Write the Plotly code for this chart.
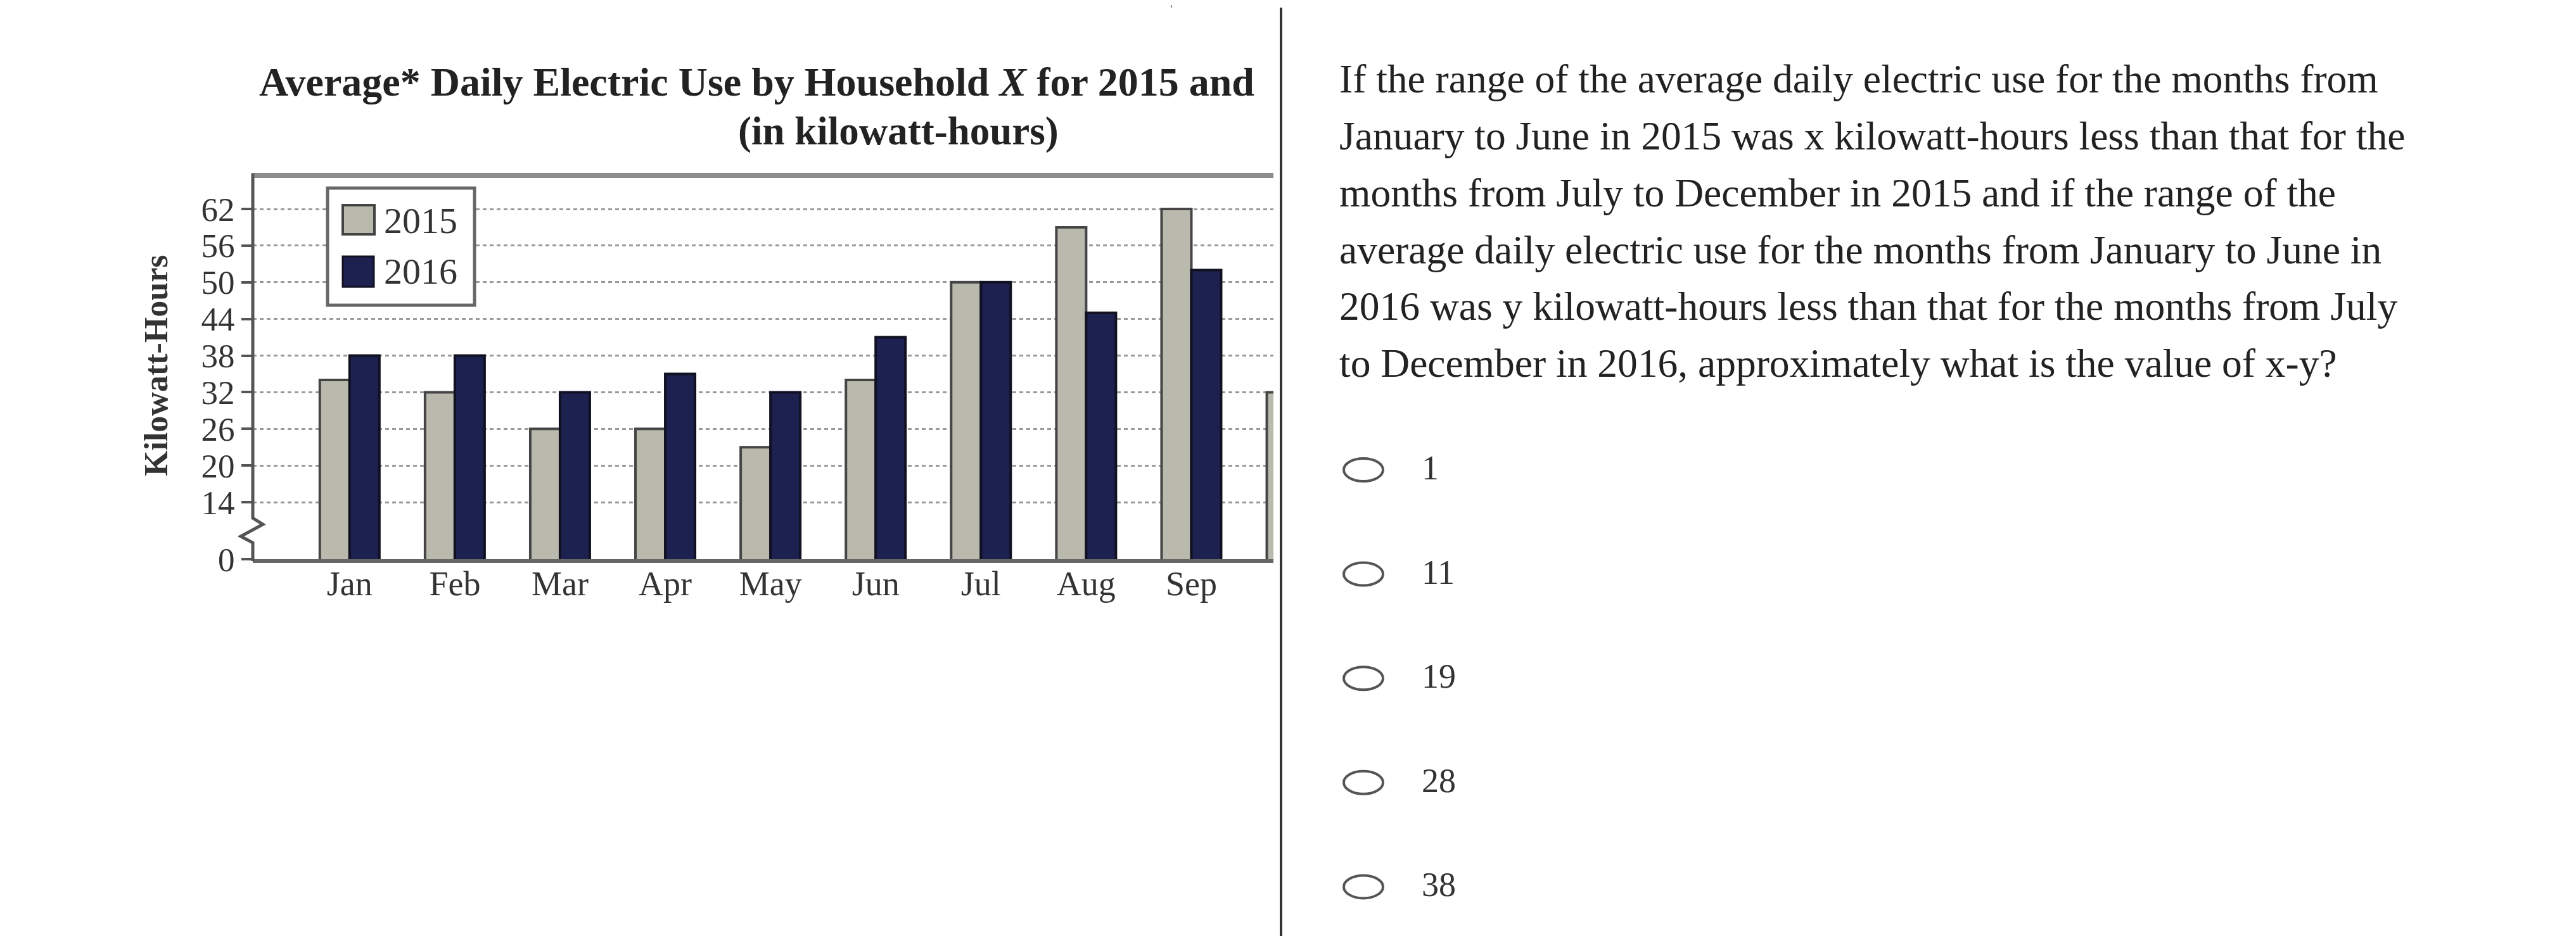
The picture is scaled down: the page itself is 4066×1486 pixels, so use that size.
import plotly.graph_objects as go

# ---------------- data ----------------
MONTHS = ["Jan", "Feb", "Mar", "Apr", "May", "Jun", "Jul", "Aug", "Sep", "Oct"]
USE_2015 = [34, 32, 26, 26, 23, 34, 50, 59, 62, 32]
USE_2016 = [38, 38, 32, 35, 32, 41, 50, 45, 52, None]
Y_TICKS = [0, 14, 20, 26, 32, 38, 44, 50, 56, 62]
SERIES_NAMES = ["2015", "2016"]

TITLE_1 = "Average* Daily Electric Use by Household <i>X</i> for 2015 and"
TITLE_2 = "(in kilowatt-hours)"
Y_TITLE = "Kilowatt-Hours"

QUESTION_LINES = [
    "If the range of the average daily electric use for the months from",
    "January to June in 2015 was x kilowatt-hours less than that for the",
    "months from July to December in 2015 and if the range of the",
    "average daily electric use for the months from January to June in",
    "2016 was y kilowatt-hours less than that for the months from July",
    "to December in 2016, approximately what is the value of x-y?",
]
CHOICES = ["1", "11", "19", "28", "38"]

# ---------------- geometry helpers ----------------
# the page body has an 8px margin, so the figure is offset by 8px
OFF = 8
FW, FH = 4066 - 2 * OFF, 1486 - 2 * OFF


def px(x):
    return (x - OFF) / FW


def py(y):
    return 1 - (y - OFF) / FH


SERIF = "Liberation Serif, Times New Roman, serif"
C2015 = "#b9b9ad"
C2016 = "#1d2150"

BREAK_POS = 4.67  # where the "0" of the broken axis sits
tickvals = [BREAK_POS if t == 0 else t for t in Y_TICKS]
ticktext = [str(t) for t in Y_TICKS]

fig = go.Figure()
fig.add_trace(go.Bar(x=MONTHS, y=USE_2015, name=SERIES_NAMES[0],
                     marker=dict(color=C2015, line=dict(color="#454545", width=4)),
                     showlegend=False))
fig.add_trace(go.Bar(x=MONTHS, y=USE_2016, name=SERIES_NAMES[1],
                     marker=dict(color=C2016, line=dict(color="#111122", width=4)),
                     showlegend=False))

fig.update_layout(
    width=FW, height=FH,
    margin=dict(l=0, r=0, t=0, b=0, pad=0),
    paper_bgcolor="white", plot_bgcolor="white",
    barmode="group", bargap=0.434, bargroupgap=0,
    xaxis=dict(domain=[px(399), px(2010)], range=[-0.92, 8.78],
               showline=True, linecolor="#666666", linewidth=6,
               ticks="", showgrid=False, automargin=False,
               ticklabelstandoff=-14,
               tickfont=dict(family=SERIF, size=54, color="#333333")),
    yaxis=dict(domain=[py(883), py(277)], range=[BREAK_POS, 67.5],
               tickvals=tickvals, ticktext=ticktext,
               showline=False, ticks="outside", ticklen=17, tickwidth=4,
               tickcolor="#555555", automargin=False,
               showgrid=True, gridcolor="#999999", gridwidth=3, griddash="6px,5px",
               zeroline=False,
               tickfont=dict(family=SERIF, size=53, color="#333333")),
)

shapes = []
# top frame line
shapes.append(dict(type="line", xref="paper", yref="paper",
                   x0=px(397), x1=px(2010), y0=py(277), y1=py(277),
                   line=dict(color="#8c8c8c", width=8), layer="above"))
# y axis line with break zigzag
path = (f"M {px(399)},{py(274)} L {px(399)},{py(818)} L {px(415)},{py(828)} "
        f"L {px(380)},{py(847)} L {px(399)},{py(857)} L {px(399)},{py(886)}")
shapes.append(dict(type="path", xref="paper", yref="paper", path=path,
                   line=dict(color="#555555", width=5), layer="above"))
# legend box
shapes.append(dict(type="rect", xref="paper", yref="paper",
                   x0=px(517), x1=px(749), y0=py(482), y1=py(297),
                   line=dict(color="#666666", width=5), fillcolor="white", layer="above"))
shapes.append(dict(type="rect", xref="paper", yref="paper",
                   x0=px(541), x1=px(591), y0=py(370), y1=py(324),
                   line=dict(color="#444444", width=4), fillcolor=C2015, layer="above"))
shapes.append(dict(type="rect", xref="paper", yref="paper",
                   x0=px(541), x1=px(590), y0=py(453), y1=py(405),
                   line=dict(color="#111122", width=3), fillcolor=C2016, layer="above"))
# divider
shapes.append(dict(type="line", xref="paper", yref="paper",
                   x0=px(2022), x1=px(2022), y0=py(12), y1=0,
                   line=dict(color="#333333", width=4), layer="above"))
shapes.append(dict(type="line", xref="paper", yref="paper",
                   x0=px(1849), x1=px(1849), y0=1, y1=py(12),
                   line=dict(color="#888888", width=2), layer="above"))

annotations = []
annotations.append(dict(text=f"<b>{TITLE_1}</b>", xref="paper", yref="paper",
                        x=px(407), y=py(130), xanchor="left", yanchor="middle",
                        showarrow=False, font=dict(family=SERIF, size=64, color="#222222")))
annotations.append(dict(text=f"<b>{TITLE_2}</b>", xref="paper", yref="paper",
                        x=px(1418), y=py(207), xanchor="center", yanchor="middle",
                        showarrow=False, font=dict(family=SERIF, size=63, color="#222222")))
annotations.append(dict(text=f"<b>{Y_TITLE}</b>", xref="paper", yref="paper",
                        x=px(246), y=py(577), xanchor="center", yanchor="middle",
                        textangle=-90, showarrow=False,
                        font=dict(family=SERIF, size=52, color="#333333")))
for name, yc in zip(SERIES_NAMES, [348, 428]):
    annotations.append(dict(text=name, xref="paper", yref="paper",
                            x=px(604), y=py(yc), xanchor="left", yanchor="middle",
                            showarrow=False, font=dict(family=SERIF, size=58, color="#333333")))

for i, line in enumerate(QUESTION_LINES):
    annotations.append(dict(text=line, xref="paper", yref="paper",
                            x=px(2112), y=py(125 + i * 89.7), xanchor="left", yanchor="middle",
                            showarrow=False, font=dict(family=SERIF, size=63.5, color="#222222")))

for i, ch in enumerate(CHOICES):
    cy = 742 + i * 164.6
    shapes.append(dict(type="circle", xref="paper", yref="paper",
                       x0=px(2121), x1=px(2183), y0=py(cy + 18), y1=py(cy - 18),
                       line=dict(color="#555555", width=4), layer="above"))
    annotations.append(dict(text=ch, xref="paper", yref="paper",
                            x=px(2242), y=py(cy - 3), xanchor="left", yanchor="middle",
                            showarrow=False, font=dict(family=SERIF, size=54, color="#333333")))

fig.update_layout(shapes=shapes, annotations=annotations)

fig.write_html("out.html", config={"displayModeBar": False})
